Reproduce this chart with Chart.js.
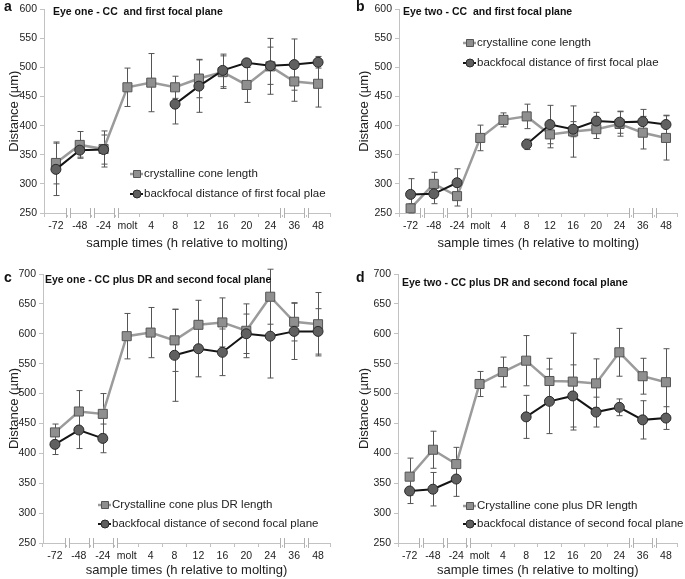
<!DOCTYPE html>
<html>
<head>
<meta charset="utf-8">
<script src="https://cdn.jsdelivr.net/npm/chart.js@4.4.0/dist/chart.umd.min.js"></script>
<style>
  body { margin: 0; background: #fff; }
  #fig { position: relative; width: 685px; height: 579px; overflow: hidden; font-family: "Liberation Sans", Arial, sans-serif; }
  .panel { position: absolute; }
  .lbl { position: absolute; font-weight: bold; font-size: 14px; line-height: 1; color: #111; }
  .ttl { position: absolute; font-weight: bold; font-size: 10.5px; line-height: 1; white-space: pre; color: #111; }
</style>
</head>
<body>
<div id="fig">
  <div class="panel" style="left:0;top:0;width:340px;height:255px"><canvas id="cA"></canvas></div>
  <div class="panel" style="left:340px;top:0;width:345px;height:255px"><canvas id="cB"></canvas></div>
  <div class="panel" style="left:0;top:260px;width:340px;height:319px"><canvas id="cC"></canvas></div>
  <div class="panel" style="left:340px;top:260px;width:345px;height:319px"><canvas id="cD"></canvas></div>

  <div class="lbl" style="left:4px;top:-1px">a</div>
  <div class="lbl" style="left:356px;top:-1px">b</div>
  <div class="lbl" style="left:4px;top:270px">c</div>
  <div class="lbl" style="left:356px;top:270px">d</div>

  <div class="ttl" style="left:53px;top:6px">Eye one - CC  and first focal plane</div>
  <div class="ttl" style="left:403px;top:6px">Eye two - CC  and first focal plane</div>
  <div class="ttl" style="left:45px;top:274px">Eye one - CC plus DR and second focal plane</div>
  <div class="ttl" style="left:402px;top:277px">Eye two - CC plus DR and second focal plane</div>
</div>
<script>
// sample times (h relative to molting)
const times = ['-72', '-48', '-24', 'molt', '4', '8', '12', '16', '20', '24', '36', '48'];
const breakAfter = [0, 1, 2, 9, 10];

// a - eye one, CC and first focal plane
const ccA = [336, 367, 360, 466, 474, 466, 481, 492, 470, 502, 476, 472];
const ccAErr = [36, 23, 31, 33, 50, 19, 33, 28, 30, 48, 34, 40];
const bfA = [325, 358, 359, null, null, 437, 468, 495, 508, 503, 505, 509];
const bfAErr = [45, 12, 25, 0, 0, 34, 45, 28, 4, 32, 44, 10];

// b - eye two, CC and first focal plane
const ccB = [258, 300, 279, 379, 410, 416, 385, 390, 394, 403, 388, 379];
const ccBErr = [8, 20, 17, 22, 12, 21, 23, 44, 16, 21, 28, 38];
const bfB = [282, 283, 302, null, null, 368, 402, 394, 408, 406, 407, 402];
const bfBErr = [27, 17, 24, 0, 0, 9, 33, 13, 15, 19, 21, 16];

// c - eye one, CC plus DR and second focal plane
const ccC = [435, 470, 466, 596, 602, 589, 615, 619, 605, 662, 620, 616];
const ccCErr = [14, 35, 34, 38, 42, 52, 41, 41, 45, 46, 32, 53];
const bfC = [415, 439, 425, null, null, 564, 575, 569, 600, 596, 604, 604];
const bfCErr = [17, 31, 24, 0, 0, 77, 47, 39, 33, 70, 47, 38];

// d - eye two, CC plus DR and second focal plane
const ccD = [361, 406, 382, 516, 536, 555, 521, 520, 517, 569, 529, 519];
const ccDErr = [31, 31, 28, 21, 25, 42, 38, 81, 41, 40, 30, 56];
const bfD = [337, 340, 357, null, null, 461, 487, 496, 469, 477, 456, 459];
const bfDErr = [21, 28, 29, 0, 0, 36, 54, 52, 25, 14, 32, 19];

const FONT = '"Liberation Sans", Arial, sans-serif';
const AXIS = '#c2c2c2';

function drawMarker(ctx, ds, x, y, r) {
  ctx.fillStyle = ds.pointBackgroundColor;
  ctx.strokeStyle = ds.pointBorderColor;
  ctx.lineWidth = 1;
  ctx.beginPath();
  if (ds.pointStyle === 'rect') {
    ctx.rect(x - r, y - r, 2 * r, 2 * r);
  } else {
    ctx.arc(x, y, r, 0, Math.PI * 2);
  }
  ctx.fill();
  ctx.stroke();
}

const errorBars = {
  id: 'errorBars',
  beforeDatasetsDraw(chart) {
    const ctx = chart.ctx, xs = chart.scales.x, ys = chart.scales.y;
    ctx.save();
    ctx.strokeStyle = '#555';
    ctx.lineWidth = 1;
    chart.data.datasets.forEach(ds => {
      ds.data.forEach((v, i) => {
        if (v === null) return;
        const e = ds.errors[i];
        const px = Math.round(xs.getPixelForValue(i)) + 0.5;
        const top = ys.getPixelForValue(v + e), bot = ys.getPixelForValue(v - e);
        ctx.beginPath();
        ctx.moveTo(px, top); ctx.lineTo(px, bot);
        ctx.moveTo(px - 3, top); ctx.lineTo(px + 3, top);
        ctx.moveTo(px - 3, bot); ctx.lineTo(px + 3, bot);
        ctx.stroke();
      });
    });
    ctx.restore();
  }
};

const axisBreaks = {
  id: 'axisBreaks',
  afterDraw(chart) {
    const ctx = chart.ctx, xs = chart.scales.x, yb = chart.chartArea.bottom;
    ctx.save();
    breakAfter.forEach(i => {
      const bx = Math.round((xs.getPixelForValue(i) + xs.getPixelForValue(i + 1)) / 2);
      ctx.fillStyle = '#fff';
      ctx.fillRect(bx - 1, yb - 2, 3, 4);
      ctx.strokeStyle = '#b0b0b0';
      ctx.lineWidth = 1;
      [bx - 1.5, bx + 2.5].forEach(lx => {
        ctx.beginPath(); ctx.moveTo(lx, yb - 5); ctx.lineTo(lx, yb + 5); ctx.stroke();
      });
    });
    ctx.restore();
  }
};

const innerLegend = {
  id: 'innerLegend',
  afterDraw(chart, args, opts) {
    const ctx = chart.ctx;
    ctx.save();
    chart.data.datasets.forEach((ds, i) => {
      const x = opts.x, y = opts.y + i * opts.gap;
      ctx.strokeStyle = ds.borderColor;
      ctx.lineWidth = ds.borderWidth;
      ctx.beginPath(); ctx.moveTo(x, y); ctx.lineTo(x + 13, y); ctx.stroke();
      drawMarker(ctx, ds, x + 7, y, ds.pointStyle === 'rect' ? 3.5 : 4);
      ctx.fillStyle = '#222';
      ctx.font = '11.5px ' + FONT;
      ctx.textBaseline = 'middle';
      ctx.fillText(ds.label, x + 14, y);
    });
    ctx.restore();
  }
};

function makeChart(id, cfg) {
  new Chart(document.getElementById(id), {
    type: 'line',
    data: {
      labels: times,
      datasets: [{
        label: cfg.ccLabel,
        data: cfg.cc,
        errors: cfg.ccErr,
        borderColor: '#9b9b9b',
        borderWidth: 2.5,
        pointStyle: 'rect',
        pointRadius: 6.4,
        pointBackgroundColor: '#8f8f8f',
        pointBorderColor: '#555',
        pointBorderWidth: 1,
        order: 1
      }, {
        label: cfg.bfLabel,
        data: cfg.bf,
        errors: cfg.bfErr,
        borderColor: '#151515',
        borderWidth: 2,
        pointStyle: 'circle',
        pointRadius: 5,
        pointBackgroundColor: '#606060',
        pointBorderColor: '#2a2a2a',
        pointBorderWidth: 1,
        order: 0
      }]
    },
    options: {
      responsive: true,
      maintainAspectRatio: false,
      animation: false,
      devicePixelRatio: 1,
      layout: { padding: cfg.pad },
      plugins: {
        legend: { display: false },
        tooltip: { enabled: false },
        innerLegend: cfg.legend
      },
      scales: {
        x: {
          offset: true,
          grid: { drawOnChartArea: false, drawTicks: true, tickLength: 4, color: AXIS, offset: true },
          border: { color: AXIS },
          ticks: { color: '#222', font: { size: 10.5, family: FONT }, padding: 3, autoSkip: false, maxRotation: 0 },
          title: { display: true, text: 'sample times (h relative to molting)', color: '#222',
                   font: { size: 13, family: FONT }, padding: { top: 0, bottom: cfg.xTitlePad } },
          afterFit: s => { s.height = cfg.xH; }
        },
        y: {
          min: 250, max: cfg.yMax,
          grid: { drawOnChartArea: false, drawTicks: true, tickLength: 4, color: AXIS },
          border: { color: AXIS },
          ticks: { stepSize: 50, color: '#222', font: { size: 10.5, family: FONT }, padding: 3 },
          title: { display: true, text: 'Distance (µm)', color: '#222',
                   font: { size: 13, family: FONT }, padding: { top: cfg.yTitlePad, bottom: 0 } },
          afterFit: s => { s.width = cfg.yW; }
        }
      }
    },
    plugins: [errorBars, axisBreaks, innerLegend]
  });
}

makeChart('cA', {
  cc: ccA, ccErr: ccAErr, bf: bfA, bfErr: bfAErr, yMax: 600,
  ccLabel: 'crystalline cone length', bfLabel: 'backfocal distance of first focal plae',
  pad: { top: 6, right: 10, left: 0, bottom: 0 }, xH: 42, yW: 44, xTitlePad: 4, yTitlePad: 7,
  legend: { x: 130, y: 174, gap: 20 }
});
makeChart('cB', {
  cc: ccB, ccErr: ccBErr, bf: bfB, bfErr: bfBErr, yMax: 600,
  ccLabel: 'crystalline cone length', bfLabel: 'backfocal distance of first focal plae',
  pad: { top: 6, right: 0, left: 0, bottom: 0 }, xH: 42, yW: 59, xTitlePad: 4, yTitlePad: 17,
  legend: { x: 123, y: 43, gap: 20 }
});
makeChart('cC', {
  cc: ccC, ccErr: ccCErr, bf: bfC, bfErr: bfCErr, yMax: 700,
  ccLabel: 'Crystalline cone plus DR length', bfLabel: 'backfocal distance of second focal plane',
  pad: { top: 14, right: 10, left: 0, bottom: 0 }, xH: 36, yW: 43, xTitlePad: 1, yTitlePad: 7,
  legend: { x: 98, y: 245, gap: 19 }
});
makeChart('cD', {
  cc: ccD, ccErr: ccDErr, bf: bfD, bfErr: bfDErr, yMax: 700,
  ccLabel: 'Crystalline cone plus DR length', bfLabel: 'backfocal distance of second focal plane',
  pad: { top: 14, right: 0, left: 0, bottom: 0 }, xH: 36, yW: 58, xTitlePad: 1, yTitlePad: 17,
  legend: { x: 123, y: 246, gap: 18 }
});
</script>
</body>
</html>
